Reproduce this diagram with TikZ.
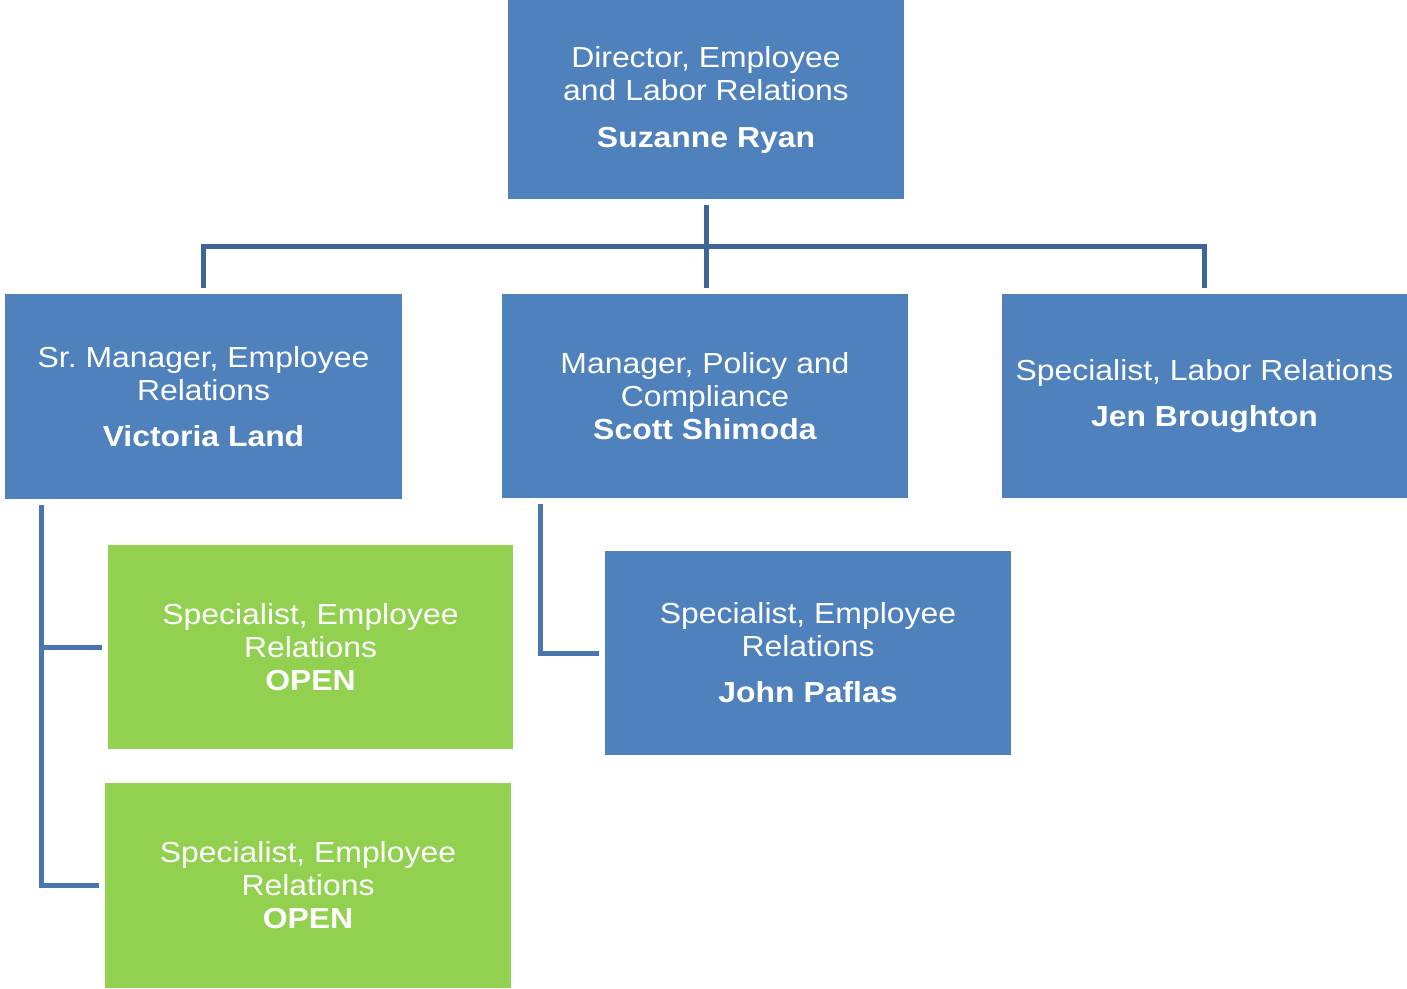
\documentclass[tikz,border=0pt]{standalone}
\usepackage{fontspec}
\setmainfont[FakeStretch=1.1]{Liberation Sans}
\frenchspacing
\definecolor{boxblue}{HTML}{4F81BD}
\definecolor{boxgreen}{HTML}{92D050}
\definecolor{topline}{HTML}{3E6597}
\definecolor{lowline}{HTML}{4A76AE}
\begin{document}
\begin{tikzpicture}[x=1pt,y=-1pt,
  orgbox/.style={rectangle, inner sep=0pt, text=white, align=center,
    font=\fontsize{29}{33}\selectfont},
  bluebox/.style={orgbox, fill=boxblue},
  greenbox/.style={orgbox, fill=boxgreen},
  conn/.style={line width=5pt, line join=miter}]
\useasboundingbox (0,0) rectangle (1407,988);
\node[bluebox, minimum width=396pt, minimum height=199pt] (top) at (706,99.5)
  {Director, Employee\\and Labor Relations\\[14pt]\textbf{Suzanne Ryan}};
\node[bluebox, minimum width=397pt, minimum height=205pt] (sr) at (203.5,396.5)
  {Sr.\ Manager, Employee\\Relations\\[13pt]\textbf{Victoria Land}};
\node[bluebox, minimum width=406pt, minimum height=204pt] (mgr) at (705,396)
  {Manager, Policy and\\Compliance\\\textbf{Scott Shimoda}};
\node[bluebox, minimum width=405pt, minimum height=204pt] (lab) at (1204.5,396)
  {Specialist, Labor Relations\\[13pt]\textbf{Jen Broughton}};
\node[greenbox, minimum width=405pt, minimum height=204pt] (g1) at (310.5,647)
  {Specialist, Employee\\Relations\\\textbf{OPEN}};
\node[greenbox, minimum width=406pt, minimum height=205pt] (g2) at (308,885.5)
  {Specialist, Employee\\Relations\\\textbf{OPEN}};
\node[bluebox, minimum width=406pt, minimum height=204pt] (jp) at (808,653)
  {Specialist, Employee\\Relations\\[13pt]\textbf{John Paflas}};
% top connectors
\draw[conn, topline] ([yshift=-6pt]top.south) -- ([yshift=6pt]top.south |- mgr.north);
\draw[conn, topline] ([yshift=6pt]sr.north) -- ++(0,-41) -| ([yshift=6pt]lab.north);
% lower connectors
\coordinate (lv) at ([shift={(37pt,-6pt)}]sr.south west);
\coordinate (mv) at ([shift={(39pt,-6pt)}]mgr.south west);
\draw[conn, lowline] (lv) |- ([xshift=-6pt]g2.west);
\draw[conn, lowline] (lv |- g1.west) -- ([xshift=-6pt]g1.west);
\draw[conn, lowline] (mv) |- ([xshift=-6pt]jp.west);
\end{tikzpicture}
\end{document}
